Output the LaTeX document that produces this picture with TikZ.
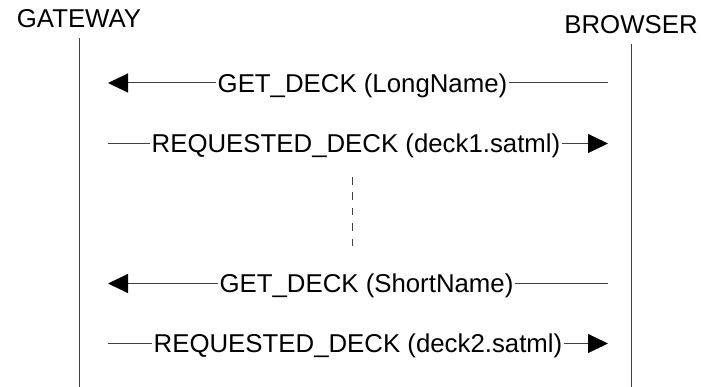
\documentclass[tikz,border=0pt]{standalone}
\usepackage{fontspec}
\setmainfont{Liberation Sans}
\usetikzlibrary{arrows.meta,positioning}

\begin{document}
\begin{tikzpicture}[%
	x=1pt,y=-1pt,>={Triangle[length=20pt,width=19pt,color=black]},
	every node/.style={font=\fontsize{25.8}{30}\selectfont},
	actor/.style={anchor=base,inner sep=0pt},
	msg/.style={inner sep=1.5pt,text height=18.5pt,text depth=0pt},
	life/.style={draw=black!75,line width=1pt},
	wire/.style={draw=black!75,line width=1pt},
	gap/.style={draw=black!75,line width=1pt,dash pattern=on 7.7pt off 7.7pt}]

	\useasboundingbox (0,0) rectangle (701,387);

	\node[actor]	(GW)	at (79,28)	{GATEWAY};
	\node[actor]	(BR)	at (631,34)	{BROWSER};

	\coordinate (bot)	at (0,387);
	\coordinate (lt)	at (108,0);
	\coordinate (rt)	at (608,0);

	\draw[life] ([yshift=-10pt]GW.base) -- (GW.base |- bot);
	\draw[life] ([yshift=-10pt]BR.base) -- (BR.base |- bot);

	\node[msg]	(M1)	at (362.5,83)	{GET\_DECK (LongName)};
	\node[msg]	(M2)	at (356,143.5)	{REQUESTED\_DECK (deck1.satml)};
	\node[msg]	(M3)	at (366.5,283.5)	{GET\_DECK (ShortName)};
	\node[msg]	(M4)	at (358,343.5)	{REQUESTED\_DECK (deck2.satml)};

	\draw[wire,->]	(M1) -- (M1 -| lt);
	\draw[wire]		(M1) -- (M1 -| rt);
	\draw[wire]		(M2) -- (M2 -| lt);
	\draw[wire,->]	(M2) -- (M2 -| rt);
	\draw[wire,->]	(M3) -- (M3 -| lt);
	\draw[wire]		(M3) -- (M3 -| rt);
	\draw[wire]		(M4) -- (M4 -| lt);
	\draw[wire,->]	(M4) -- (M4 -| rt);

	\coordinate (D1)	at (352,177);
	\coordinate (D2)	at (352,247);
	\draw[gap] (D1) -- (D2);

\end{tikzpicture}
\end{document}
